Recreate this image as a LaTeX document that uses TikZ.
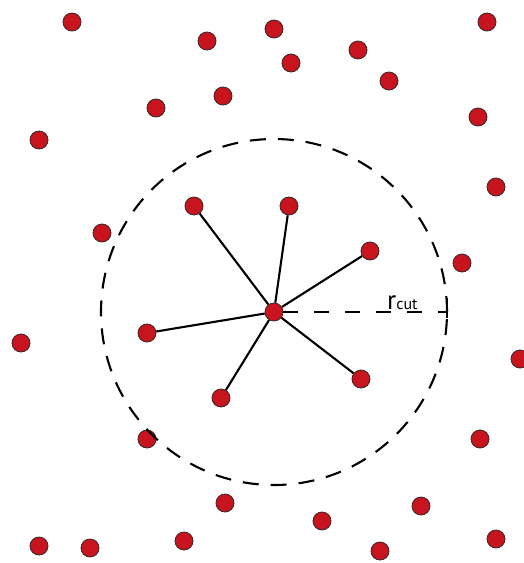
\documentclass[tikz,border=0pt]{standalone}
\usepackage{fontspec}
\setmainfont{PT Sans}
\usepackage{tikz}
\usetikzlibrary{calc}
\definecolor{atRed}{HTML}{C8141E}
\definecolor{atEdge}{HTML}{3A2626}
\tikzset{
  atom/.style={circle, draw=atEdge, line width=0.8pt, fill=atRed, minimum size=18pt, inner sep=0pt},
  bond/.style={line width=2.1pt, black},
  cutoff/.style={line width=2.1pt, black, dash pattern=on 16pt off 12pt},
  rline/.style={line width=1.4pt, black, dash pattern=on 15pt off 16pt},
}

\begin{document}
\begin{tikzpicture}[x=1pt, y=-1pt]
  \useasboundingbox (0,0) rectangle (523,563);
  % central atom and its neighbours
  \node[atom] (c) at (274,312) {};
  \node[atom] (n1) at (194,206) {};
  \node[atom] (n2) at (289,206) {};
  \node[atom] (n3) at (370,251) {};
  \node[atom] (n4) at (361,379) {};
  \node[atom] (n5) at (221,398) {};
  \node[atom] (n6) at (147,333) {};
  \draw[bond] (c) -- (n1);
  \draw[bond] (c) -- (n2);
  \draw[bond] (c) -- (n3);
  \draw[bond] (c) -- (n4);
  \draw[bond] (c) -- (n5);
  \draw[bond] (c) -- (n6);
  % atoms outside the cutoff
  \node[atom] (o1) at (72,22) {};
  \node[atom] (o2) at (207,41) {};
  \node[atom] (o3) at (274,29) {};
  \node[atom] (o4) at (291,63) {};
  \node[atom] (o5) at (358,50) {};
  \node[atom] (o6) at (389,81) {};
  \node[atom] (o7) at (487,22) {};
  \node[atom] (o8) at (223,96) {};
  \node[atom] (o9) at (156,108) {};
  \node[atom] (o10) at (39,140) {};
  \node[atom] (o11) at (478,117) {};
  \node[atom] (o12) at (496,187) {};
  \node[atom] (o13) at (102,233) {};
  \node[atom] (o14) at (462,263) {};
  \node[atom] (o15) at (21,343) {};
  \node[atom] (o16) at (520,359) {};
  \node[atom] (o17) at (147,439) {};
  \node[atom] (o18) at (480,439) {};
  \node[atom] (o19) at (225,503) {};
  \node[atom] (o20) at (421,506) {};
  \node[atom] (o21) at (322,521) {};
  \node[atom] (o22) at (39,546) {};
  \node[atom] (o23) at (90,548) {};
  \node[atom] (o24) at (184,541) {};
  \node[atom] (o25) at (380,551) {};
  \node[atom] (o26) at (496,539) {};
  % cutoff sphere
  \draw[cutoff] (c.center) circle[radius=173pt];
  \coordinate (rc) at (447,312);
  \draw[rline] (c) -- (rc);
  \draw[line width=1.4pt] ($(rc)+(0,-14)$) -- ($(rc)+(0,6)$);
  \node[anchor=base west, inner sep=0pt] (lbl) at (387,309)
    {{\fontsize{27}{27}\selectfont r}{\fontsize{16}{16}\selectfont cut}};
\end{tikzpicture}
\end{document}
